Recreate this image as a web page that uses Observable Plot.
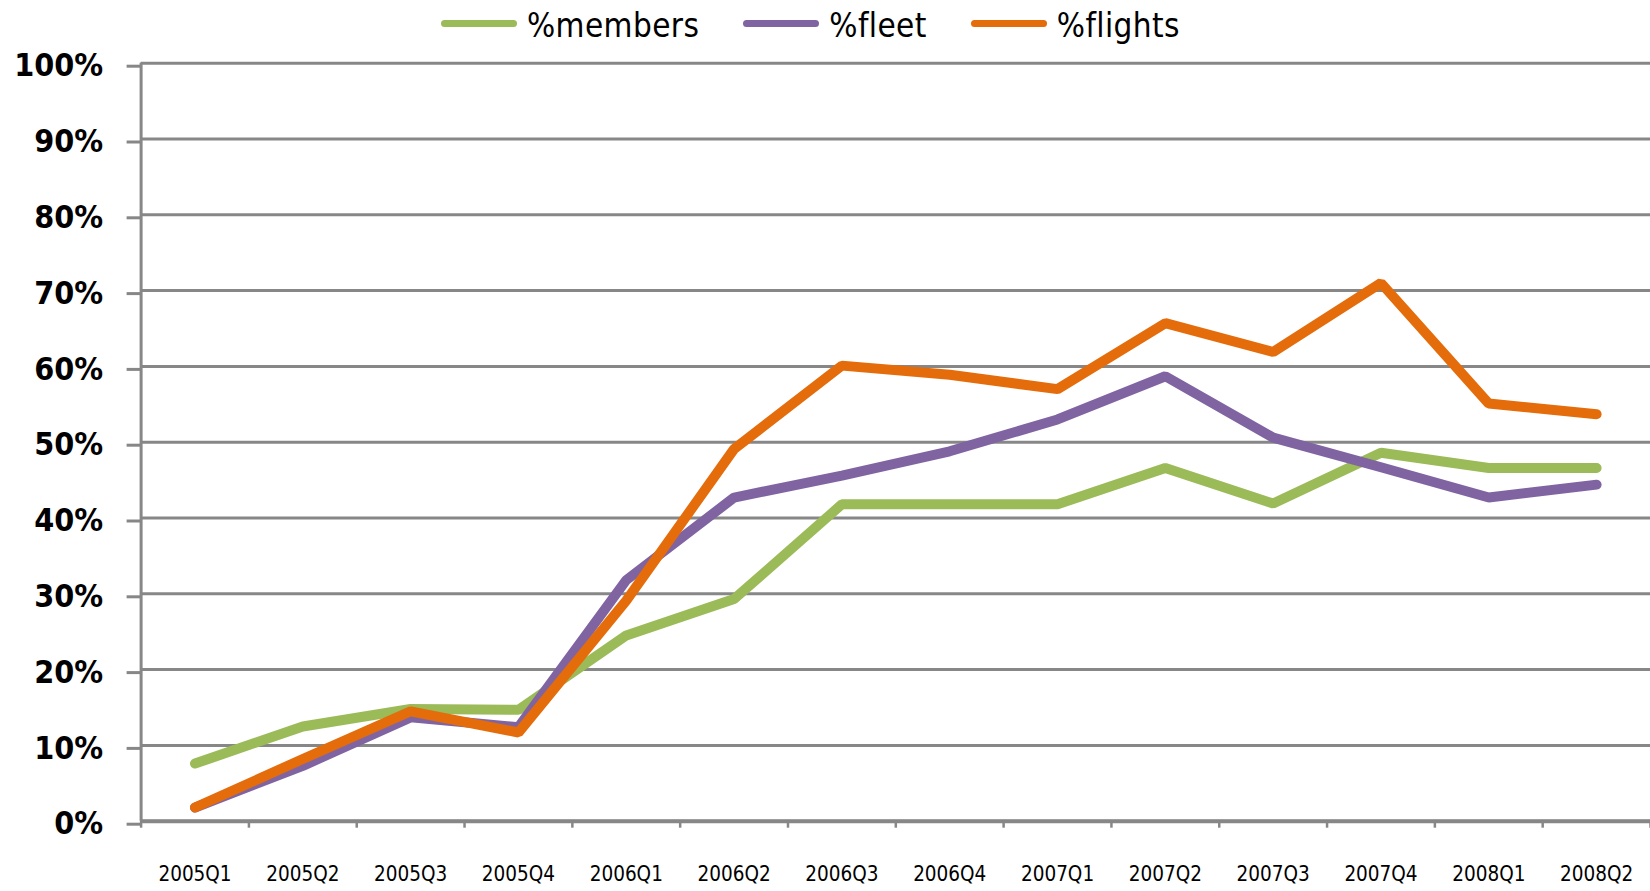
<!DOCTYPE html>
<html><head><meta charset="utf-8">
<script src="https://cdn.jsdelivr.net/npm/d3@7"></script>
<script src="https://cdn.jsdelivr.net/npm/@observablehq/plot@0.6"></script>
<style>
html,body{margin:0;padding:0;background:#fff;}
#legend{height:46px;display:flex;align-items:center;padding-left:441px;gap:44px;box-sizing:border-box;
  font-family:"DejaVu Sans Condensed","DejaVu Sans",sans-serif;font-stretch:condensed;font-size:33px;letter-spacing:0.4px;color:#000;padding-top:4px;}
.item{display:flex;align-items:center;}
.sw{width:76px;height:7px;border-radius:3.5px;margin-right:10px;margin-top:-4px}
#chart svg{display:block}
#chart svg text{font-stretch:condensed}
</style>
</head><body>
<div id="legend"></div>
<div id="chart"></div>
<script>
const quarters = ["2005Q1","2005Q2","2005Q3","2005Q4","2006Q1","2006Q2","2006Q3","2006Q4","2007Q1","2007Q2","2007Q3","2007Q4","2008Q1","2008Q2"];
const members = [7.6, 12.5, 14.8, 14.7, 24.5, 29.3, 41.8, 41.8, 41.8, 46.6, 41.9, 48.6, 46.6, 46.6];
const fleet   = [1.8, 7.3, 13.7, 12.4, 31.8, 42.7, 45.6, 48.8, 53.0, 58.7, 50.6, 46.7, 42.7, 44.4];
const flights = [1.8, 8.2, 14.5, 11.7, 29.1, 49.1, 60.1, 58.9, 57.0, 65.7, 61.9, 71.0, 55.1, 53.7];
const seriesNames = ["%members", "%fleet", "%flights"];
const seriesColors = ["#9BBB59", "#8064A2", "#E46C0A"];
const yTicks = [0, 10, 20, 30, 40, 50, 60, 70, 80, 90, 100];

const seriesValues = [members, fleet, flights];
const table = [];
seriesNames.forEach((s, k) => seriesValues[k].forEach((v, i) => table.push({i, v, s})));
const idx = quarters.map((_, i) => i);
const boundaries = d3.range(quarters.length + 1).map(k => k - 0.5);

const legend = document.getElementById("legend");
seriesNames.forEach((s, k) => {
  const it = document.createElement("div"); it.className = "item";
  const sw = document.createElement("div"); sw.className = "sw"; sw.style.background = seriesColors[k];
  const tx = document.createElement("span"); tx.textContent = s;
  it.appendChild(sw); it.appendChild(tx); legend.appendChild(it);
});

const font = '"DejaVu Sans Condensed","DejaVu Sans",sans-serif';
const grid = "#878787";
const chart = Plot.plot({
  width: 1650, height: 845,
  marginLeft: 140.6, marginRight: 0, marginTop: 16.7, marginBottom: 70.3,
  x: {domain: [-0.5, quarters.length - 0.5], label: null},
  y: {domain: [0, 100], label: null},
  color: {domain: seriesNames, range: seriesColors},
  style: {fontFamily: font, fontStretch: "condensed", color: "#000", background: "#fff", overflow: "visible"},
  marks: [
    Plot.gridY(yTicks, {stroke: grid, strokeOpacity: 1, strokeWidth: 3}),
    Plot.axisY(yTicks, {tickSize: 14, tickPadding: 24, tickFormat: d => d + "%", fontSize: 32, fontWeight: "bold", stroke: grid, strokeWidth: 3, label: null, dy: 3}),
    Plot.ruleY([0], {stroke: grid, strokeWidth: 4}),
    Plot.ruleX([-0.5], {stroke: grid, strokeWidth: 3}),
    Plot.axisX(boundaries, {tickSize: 7, tickFormat: () => "", stroke: grid, strokeWidth: 2.5, label: null}),
    Plot.axisX(idx, {tickSize: 0, tickPadding: 45, tickFormat: i => quarters[i], fontSize: 20.5, label: null}),
    Plot.line(table, {x: "i", y: "v", z: "s", stroke: "s", strokeWidth: 10, strokeLinecap: "round", strokeLinejoin: "miter"})
  ]
});
document.getElementById("chart").appendChild(chart);
</script>
</body></html>
